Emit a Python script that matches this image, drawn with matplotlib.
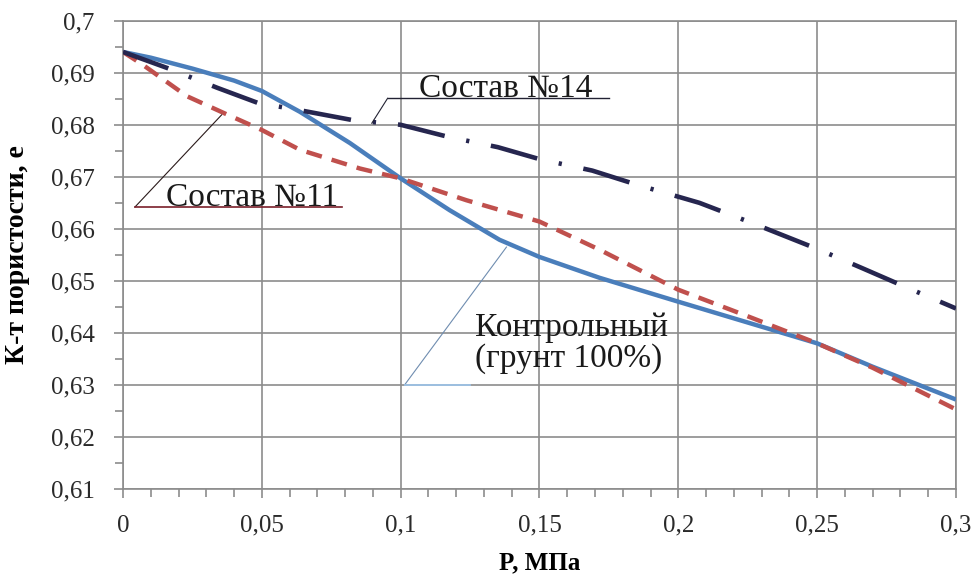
import matplotlib
matplotlib.use("Agg")
import matplotlib.pyplot as plt
from matplotlib.ticker import MultipleLocator, FixedLocator

plt.rcParams['font.family'] = ['Liberation Serif', 'DejaVu Serif']

# Контрольный (грунт 100%)
control_p = [0, 0.01, 0.025, 0.04, 0.05, 0.0637, 0.0817, 0.1, 0.1176, 0.1356,
             0.15, 0.1716, 0.2, 0.225, 0.25, 0.27, 0.3]
control_e = [0.694, 0.6929, 0.6908, 0.6885, 0.6865, 0.6825, 0.6765, 0.6697, 0.6636, 0.6579,
             0.6546, 0.6506, 0.646, 0.642, 0.638, 0.6335, 0.6272]

# Состав №11
mix11_p = [0, 0.0072, 0.023, 0.0374, 0.05, 0.0637, 0.0853, 0.1, 0.1237, 0.15,
           0.1716, 0.2, 0.225, 0.25, 0.27, 0.3]
mix11_e = [0.694, 0.6915, 0.6855, 0.682, 0.679, 0.6752, 0.6716, 0.6697, 0.6655, 0.6614,
           0.656, 0.6483, 0.6432, 0.638, 0.6333, 0.6253]

# Состав №14
mix14_p = [0, 0.016, 0.034, 0.0486, 0.0637, 0.0827, 0.1, 0.117, 0.135, 0.15,
           0.169, 0.185, 0.2076, 0.2262, 0.2507, 0.266, 0.2824, 0.3]
mix14_e = [0.694, 0.6909, 0.6871, 0.6842, 0.6828, 0.6809, 0.680, 0.6777, 0.6757, 0.6734,
           0.6712, 0.6685, 0.665, 0.6612, 0.656, 0.6525, 0.6487, 0.6447]

x_ticks = [0, 0.05, 0.1, 0.15, 0.2, 0.25, 0.3]
x_tick_labels = ['0', '0,05', '0,1', '0,15', '0,2', '0,25', '0,3']
y_ticks = [0.61, 0.62, 0.63, 0.64, 0.65, 0.66, 0.67, 0.68, 0.69, 0.70]
y_tick_labels = ['0,61', '0,62', '0,63', '0,64', '0,65', '0,66', '0,67', '0,68', '0,69', '0,7']

x_label = 'P, МПа'
y_label = 'К-т пористости, е'
label_control = 'Контрольный\n(грунт 100%)'
label_11 = 'Состав №11'
label_14 = 'Состав №14'

fig = plt.figure(figsize=(9.74, 5.76), dpi=100)
ax = fig.add_axes([0.1263, 0.151, 0.8552, 0.813])

grid_c = '#8c8c8c'
ax.plot(control_p, control_e, color='#4a7ebb', lw=3.2, solid_capstyle='butt', zorder=3)
ax.plot(mix11_p, mix11_e, color='#c0504d', lw=3.2, dashes=(3.6, 2.3), zorder=4)
ax.plot(mix14_p, mix14_e, color='#26264f', lw=3.3, dashes=(10.5, 4.8, 0.7, 4.8), zorder=5)

ax.set_xlim(0, 0.3)
ax.set_ylim(0.61, 0.70)
ax.xaxis.set_major_locator(FixedLocator(x_ticks))
ax.set_xticklabels(x_tick_labels)
ax.yaxis.set_major_locator(FixedLocator(y_ticks))
ax.set_yticklabels(y_tick_labels)
ax.xaxis.set_minor_locator(MultipleLocator(0.01))
ax.yaxis.set_minor_locator(MultipleLocator(0.005))

ax.grid(True, which='major', color=grid_c, lw=1.2, zorder=1)
for s in ax.spines.values():
    s.set_color(grid_c)
    s.set_linewidth(1.2)
ax.tick_params(which='both', direction='out', color=grid_c, width=1.2)
ax.tick_params(which='major', length=6.5)
ax.tick_params(which='minor', length=5.5)
ax.tick_params(axis='y', which='major', pad=14, labelsize=18, labelcolor='#2a2a2a')
ax.tick_params(axis='x', which='major', pad=12, labelsize=18, labelcolor='#2a2a2a')

ax.set_xlabel(x_label, fontsize=18, fontweight='bold')
ax.set_ylabel(y_label, fontsize=20, fontweight='bold')
ax.xaxis.set_label_coords(0.5, -0.132)
ax.yaxis.set_label_coords(-0.112, 0.5)

# callout for Состав №14
ax.plot([0.0896, 0.0953], [0.6803, 0.6851], color='#222233', lw=0.8, zorder=6)
ax.plot([0.0953, 0.1752], [0.6851, 0.6851], color='#222233', lw=1.0, zorder=6)
ax.text(0.1378, 0.6853, label_14, ha='center', va='baseline', fontsize=24, color='#1a1a1a', zorder=7)

# callout for Состав №11
ax.plot([0.0355, 0.0043], [0.6819, 0.6642], color='#2a1a1a', lw=0.8, zorder=6)
ax.plot([0.0043, 0.0788], [0.6642, 0.6642], color='#7a1f2a', lw=1.2, zorder=6)
ax.text(0.0466, 0.6644, label_11, ha='center', va='baseline', fontsize=24, color='#1a1a1a', zorder=7)

# callout for the control soil
ax.plot([0.1381, 0.1014], [0.6565, 0.6300], color='#6f8db0', lw=0.8, zorder=6)
ax.plot([0.1014, 0.125], [0.6300, 0.6300], color='#9dc3e6', lw=1.3, zorder=6)
ax.text(0.1266, 0.6380, label_control, ha='left', va='center', fontsize=24,
        linespacing=1.02, color='#1a1a1a', zorder=7)

fig.savefig('out.png', dpi=100)
